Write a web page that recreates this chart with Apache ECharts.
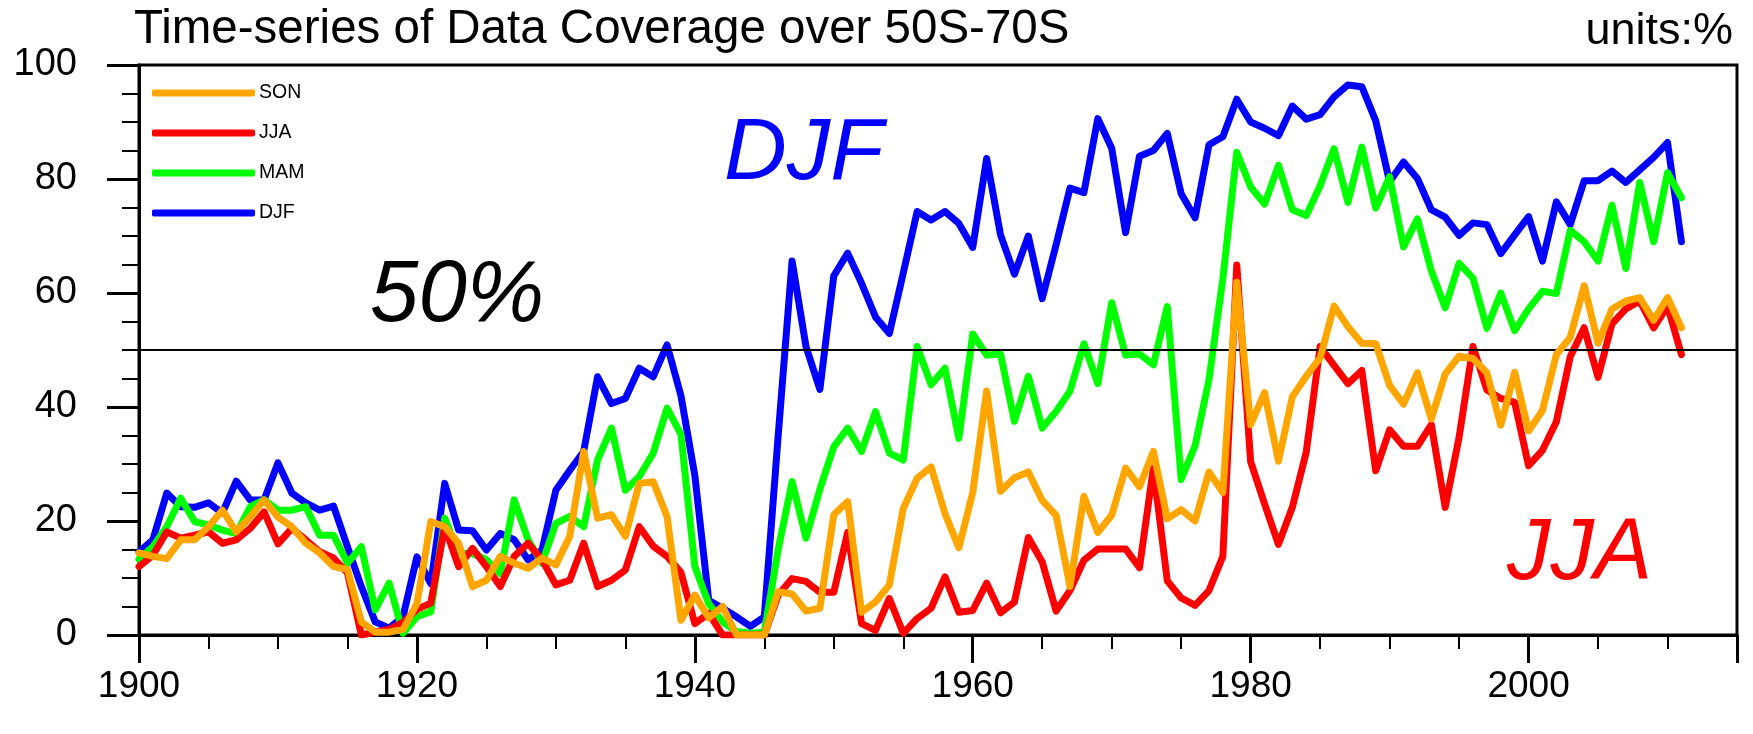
<!DOCTYPE html>
<html><head><meta charset="utf-8">
<script src="https://cdn.jsdelivr.net/npm/echarts@6/dist/echarts.min.js"></script>
<style>html,body{margin:0;padding:0;background:#fff}#c{width:1753px;height:734px}</style>
</head><body><div id="c"></div>
<script>
const years = [1900,1901,1902,1903,1904,1905,1906,1907,1908,1909,
1910,1911,1912,1913,1914,1915,1916,1917,1918,1919,
1920,1921,1922,1923,1924,1925,1926,1927,1928,1929,
1930,1931,1932,1933,1934,1935,1936,1937,1938,1939,
1940,1941,1942,1943,1944,1945,1946,1947,1948,1949,
1950,1951,1952,1953,1954,1955,1956,1957,1958,1959,
1960,1961,1962,1963,1964,1965,1966,1967,1968,1969,
1970,1971,1972,1973,1974,1975,1976,1977,1978,1979,
1980,1981,1982,1983,1984,1985,1986,1987,1988,1989,
1990,1991,1992,1993,1994,1995,1996,1997,1998,1999,
2000,2001,2002,2003,2004,2005,2006,2007,2008,2009,
2010,2011];

const DJF = [14.6,16.7,24.9,22.5,22.4,23.2,21.4,27.0,23.7,23.7,
30.2,24.9,23.2,21.9,22.6,15.5,8.5,2.3,1.2,3.2,
13.7,9.0,26.6,18.4,18.3,14.9,17.8,16.7,13.2,14.9,
25.4,28.9,32.2,45.3,40.6,41.5,46.8,45.3,50.9,42.0,
28.0,6.1,4.7,3.2,1.5,3.2,35.0,65.6,50.6,43.1,
63.0,67.0,61.7,55.8,52.9,63.5,74.3,72.8,74.3,72.2,
68.0,83.6,70.2,63.3,70.0,59.0,68.5,78.4,77.6,90.6,
85.4,70.6,84.0,85.0,88.0,77.4,73.2,86.0,87.4,94.0,
90.0,88.9,87.6,92.8,90.5,91.3,94.4,96.5,96.2,90.2,
79.5,83.0,80.1,74.6,73.3,70.1,72.3,72.0,66.9,70.2,
73.4,65.6,76.0,72.0,79.7,79.7,81.4,79.4,81.6,83.8,
86.4,69.0];

const MAM = [13.3,15.5,19.0,24.0,19.9,19.3,18.4,17.8,22.5,23.7,
21.9,21.9,22.5,17.5,17.5,12.6,15.5,4.4,9.1,0.3,
3.2,4.1,20.5,14.3,14.3,13.2,10.8,23.7,16.7,12.6,
19.6,20.8,19.0,30.7,36.3,25.4,27.8,31.9,39.8,35.2,
12.0,5.5,2.3,0.6,0.3,0.5,15.0,26.9,17.0,25.6,
33.0,36.3,32.2,39.2,31.9,30.7,50.6,43.9,46.8,34.5,
52.8,49.1,49.3,37.5,45.4,36.3,39.2,42.8,51.1,44.1,
58.3,49.1,49.3,47.4,57.6,27.3,33.2,44.8,62.5,84.7,
78.6,75.6,82.4,74.6,73.6,78.8,85.3,75.9,85.6,74.9,
80.4,68.1,73.0,63.9,57.4,65.2,62.6,53.8,60.0,53.4,
57.2,60.3,59.9,71.0,69.0,65.6,75.4,64.3,79.4,69.0,
81.1,76.7];

const JJA = [12.0,14.0,18.1,17.0,17.5,18.1,16.1,16.7,18.7,21.6,
16.0,18.7,16.7,14.6,13.5,10.9,0.0,0.5,1.0,2.2,
4.5,5.6,19.0,12.0,15.2,12.0,8.5,13.8,16.1,13.2,
8.8,9.6,16.1,8.5,9.6,11.4,19.0,15.6,13.8,11.0,
2.0,3.8,0.0,0.0,0.0,0.0,7.0,9.9,9.4,7.5,
7.5,18.0,2.0,0.8,6.4,0.3,2.9,4.7,10.2,4.0,
4.3,9.1,3.9,5.8,17.1,12.8,4.2,7.8,13.1,15.1,
15.1,15.1,11.8,29.3,9.5,6.5,5.2,7.8,13.8,64.9,
30.4,23.0,15.9,22.4,32.1,50.6,47.3,44.1,46.4,28.8,
36.0,33.1,33.1,36.9,22.4,34.7,50.6,43.0,41.5,40.8,
29.7,32.4,37.4,48.8,53.9,45.2,54.6,57.2,58.6,53.9,
57.7,49.2];

const SON = [14.4,13.8,13.4,16.7,16.7,19.0,21.9,18.1,20.7,23.7,
20.7,19.0,16.1,14.4,12.0,11.5,2.3,0.5,0.5,1.0,
5.5,19.9,19.0,16.1,8.5,9.6,13.8,12.6,11.7,13.5,
12.3,17.3,32.2,20.5,21.1,17.3,26.6,26.9,20.8,2.6,
7.0,3.0,5.0,0.0,0.0,0.0,7.6,7.2,4.2,4.7,
21.1,23.4,4.0,5.8,8.8,22.2,27.5,29.5,21.3,15.3,
25.0,42.8,25.2,27.6,28.6,23.6,21.0,8.5,24.3,18.0,
21.0,29.3,26.0,32.2,20.4,22.0,20.0,28.6,25.0,61.9,
36.9,42.5,30.5,41.8,45.4,48.6,57.7,54.1,51.2,51.1,
43.8,40.5,46.0,37.9,45.8,48.9,48.5,46.0,36.8,46.1,
35.8,39.4,49.2,52.2,61.3,51.2,57.2,58.6,59.2,55.2,
59.2,53.9];

const seriesNames = ['DJF','MAM','JJA','SON'];
const seriesColors = ['#0000FF','#00FF00','#FF0000','#FFA500'];
const seriesValues = [DJF, MAM, JJA, SON];
const legendOrder = ['SON','JJA','MAM','DJF'];
const xTicks = [1900, 2015, 20];
const yTicks = [0, 100, 20];
const refLevel = 50;

const FONT = '"Liberation Sans", Arial, Helvetica, sans-serif';
const chart = echarts.init(document.getElementById('c'), null, {renderer: 'canvas'});

const series = seriesNames.map((name, k) => ({
  name: name,
  type: 'line',
  data: years.map((y, i) => [y, seriesValues[k][i]]),
  showSymbol: false,
  symbol: 'none',
  color: seriesColors[k],
  lineStyle: {width: 7, color: seriesColors[k], cap: 'round', join: 'round'},
  z: 2 + k,
  markLine: k === 0 ? {
    silent: true, symbol: 'none', label: {show: false},
    lineStyle: {color: '#000', width: 2, type: 'solid'},
    data: [{yAxis: refLevel}]
  } : undefined
}));

const option = {
  animation: false,
  backgroundColor: '#fff',
  textStyle: {fontFamily: FONT},
  title: [
    {text: 'Time-series of Data Coverage over 50S-70S', left: 134, top: 6, padding: 0,
     textStyle: {fontSize: 47.5, fontWeight: 'normal', color: '#000', fontFamily: FONT}},
    {text: 'units:%', right: 20, top: 9, padding: 0,
     textStyle: {fontSize: 45, fontWeight: 'normal', color: '#000', fontFamily: FONT}}
  ],
  legend: {
    orient: 'vertical', left: 152, top: 82, padding: 0,
    itemWidth: 103, itemHeight: 7, itemGap: 18, icon: 'roundRect',
    data: legendOrder,
    textStyle: {fontSize: 19.5, color: '#000', fontFamily: FONT, lineHeight: 22, padding: [0, 0, 0, -1]}
  },
  grid: {left: 139, top: 65, width: 1598, height: 570, show: true, borderColor: '#000', borderWidth: 3, containLabel: false},
  xAxis: {
    type: 'value', min: xTicks[0], max: xTicks[1], interval: xTicks[2],
    axisLine: {show: true, onZero: false, lineStyle: {color: '#000', width: 3}},
    axisTick: {show: true, inside: false, length: 28, lineStyle: {color: '#000', width: 3}},
    minorTick: {show: true, splitNumber: 4, length: 14, lineStyle: {color: '#000', width: 2}},
    axisLabel: {margin: 33, fontSize: 37, color: '#000', fontFamily: FONT, showMaxLabel: false,
      formatter: v => (v % 20 === 0 && v <= 2000) ? String(v) : ''},
    splitLine: {show: false}, minorSplitLine: {show: false}
  },
  yAxis: {
    type: 'value', min: yTicks[0], max: yTicks[1], interval: yTicks[2],
    axisLine: {show: true, onZero: false, lineStyle: {color: '#000', width: 3}},
    axisTick: {show: true, inside: false, length: 32, lineStyle: {color: '#000', width: 3}},
    minorTick: {show: true, splitNumber: 4, length: 17, lineStyle: {color: '#000', width: 2}},
    axisLabel: {margin: 62, fontSize: 38, color: '#000', fontFamily: FONT, formatter: v => String(v)},
    splitLine: {show: false}, minorSplitLine: {show: false}
  },
  graphic: [
    {type: 'text', left: 724, top: 111, z: 100, style: {text: 'DJF', font: 'italic 87px ' + FONT, fill: '#0000FF'}},
    {type: 'text', left: 370, top: 253, z: 100, style: {text: '50%', font: 'italic 87px ' + FONT, fill: '#000'}},
    {type: 'text', left: 1507, top: 511, z: 100, style: {text: 'JJA', font: 'italic 87px ' + FONT, fill: '#FF0000'}}
  ],
  series: series
};
chart.setOption(option);
</script>
</body></html>
